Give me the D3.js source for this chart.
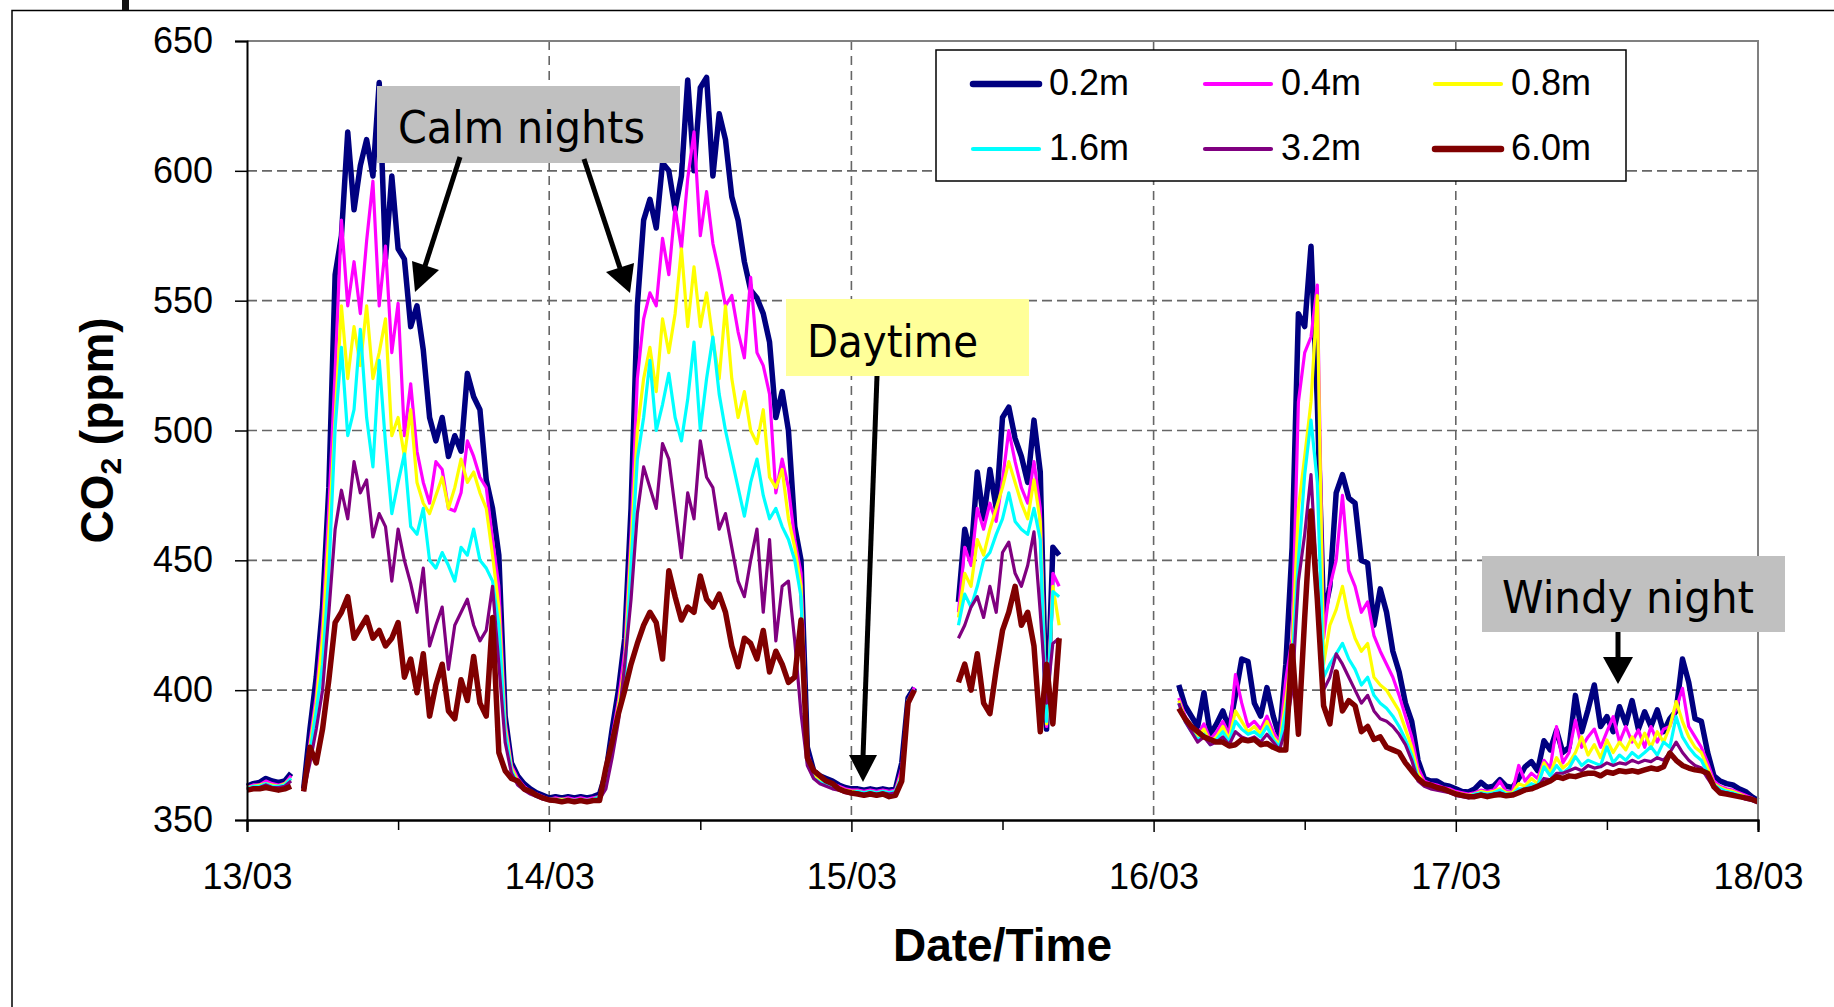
<!DOCTYPE html>
<html>
<head>
<meta charset="utf-8">
<script src="https://d3js.org/d3.v7.min.js"></script>
<style>
  body { margin: 0; background: #fff; }
  text { font-family: "Liberation Sans", Arial, sans-serif; fill: #000; }
  .note { font-family: "DejaVu Sans", Tahoma, sans-serif; font-size: 45px; }
</style>
</head>
<body>
<svg id="chart" width="1834" height="1007"></svg>
<script>
// time axis is in hours from 13/03 00:00, half-hour readings
// each series is split into blocks; block b starts at blockStart[b]
var blockStart = [0, 4.5, 24.5, 28.5, 48.5, 56.5, 74, 97.5];

var dayLabels = ["13/03", "14/03", "15/03", "16/03", "17/03", "18/03"];
var yTicks = [350, 400, 450, 500, 550, 600, 650];
var seriesNames = ["0.2m", "0.4m", "0.8m", "1.6m", "3.2m", "6.0m"];

var co2_02 = [
  [363,364,364.5,366,365,364.5,365,368],
  [362,385,405,432,478,560,575,615,585,602,612,598,634,566,598,570,566,540,548,531,505,496,505,490,498,492,522,513,508,481,470,452,390,372,367,364,362,360.5,359.5,358.5],
  [359,358.5,359,358.5,359,358.5,359,360],
  [368,385,400,420,470,548,581,589,578,603,600,585,598,635,600,632,636,598,622,612,590,581,565,554,551,545,534,505,515,500,463,450,378,369,367,366,365,363.5,362.5,362],
  [362,361.5,362,361.5,362,361.5,362,372,397,401],
  [434,462,452,484,466,485,470,505,509,497,490,480,504,484,385,455,452],
  [402,394,390,386,399,383,387,392,385,398,412,411,395,390,401,390,382,410,455,545,540,571,511,428,440,476,483,474,472,450,449,425,439,430,415,407,395,388,373,366,365,365,363.5,363,362,361,360.8],
  [362,364.5,362.5,363,365.5,363,362.5,366,370.5,372.5,369,380.5,377,384.5,376,378,398,384,392.5,402,386,389.8,384,393.6,387,396,385,391.7,386,392.4,384,389,392,412,403,389,388,376,367,365,364,363.5,362,361,359,357.5]
];

var co2_04 = [
  [362.5,363.5,363.5,365,364,363.5,364,367],
  [362,380,398,425,470,523,581,548,565,545,573,596,548,571,530,549,498,518,492,480,472,488,485,470,469,476,496,490,482,478,458,440,388,371,366,363,361,360,359,358],
  [358.5,358,358.5,358,358.5,358,358.5,359],
  [366,382,396,415,460,520,543,553,548,574,560,586,570,597,615,575,592,572,561,548,552,538,528,559,530,525,514,476,489,478,458,445,376,368,366,365,364,363,362,361.5],
  [361.5,361,361.5,361,361.5,361,361.5,370,396,401],
  [430,455,448,470,462,472,465,481,500,488,478,472,488,470,386,445,440],
  [397,390,386,383,387,381,384,388,383,406,395,386,388,385,390,384,380,404,420,511,530,536,556,420,440,450,475,446,440,430,434,421,415,410,405,398,390,382,370,365,364,363.5,362.5,362,361,360.5,360],
  [360.5,361.5,361,361.5,365,361,361,371,365,368,366,373,370,386,372,376,388.5,378,382,385,378,384,389.8,380,386,380,384.7,378,386,380,385,386,393,400.7,386,382,378,372,365,363,362,361.5,360.5,359.5,358.5,357]
];

var co2_08 = [
  [362.5,363,363.5,364,363.5,363,364,366],
  [362,378,395,420,460,505,548,520,540,525,548,520,530,543,498,505,490,508,480,472,468,475,482,470,478,489,480,484,476,470,452,432,386,370,365,362.5,361,359.5,358.5,358],
  [358,358,358,357.5,358,357.5,358,359],
  [364,380,394,410,455,500,520,532,515,543,530,545,570,540,563,540,553,535,520,548,520,505,515,500,495,508,482,478,485,466,455,440,375,367,365,364,363,362.5,361.5,361],
  [361,360.5,361,360.5,361,360.5,361,368,396,400],
  [428,445,440,458,452,462,470,478,488,480,472,466,481,465,387,440,425],
  [396,389,385,382,385,380,382,386,381,392,388,384,386,383,388,382,379,396,415,470,490,511,552,410,425,431,440,428,420,415,418,405,402,400,396,392,385,378,368,364,363,362.5,362,361.5,360.5,360,359.5],
  [360,361,360.5,361,362,360.5,360.5,364,363,366,364,372,368,374,370,372,376,382,375,379,374,380.8,376,380,377,382,378,383.4,378,384,380,386,395.6,388,382,378,376,370,364,362.5,361.5,361,360,359,358,357]
];

var co2_16 = [
  [362,363,363,364,363,363,363.5,366],
  [362,376,392,410,445,501,532,498,508,539,505,486,527,495,468,480,491,463,460,470,450,447,453,448,442,455,452,462,450,447,442,425,384,369,364,362,360.5,359,358.5,358],
  [358,357.5,358,357.5,358,357.5,358,359],
  [363,378,392,405,448,489,505,527,500,510,522,505,496,512,534,500,520,536,514,500,489,478,467,480,489,475,466,470,463,458,450,436,372,366,364.5,363.5,362.5,362,361,360.5],
  [361,360.5,361,360.5,361,360.5,361,367,396,400],
  [425,437,432,440,450,453,460,466,476,465,462,460,470,458,388,438,436],
  [395,388,384,381,383,379,381,384,380,388,385,383,384,382,386,381,378,392,410,450,483,504,480,405,410,414,418,412,408,402,405,398,395,393,390,386,381,375,366,363.5,362.5,362,361.5,361,360,359.5,359],
  [360,360.5,360,360.5,361.5,360,360,362,362,364,363,370.5,367,371,368,370,374.4,371,373,372,371,378.2,372,375,373,376,374,376,378.2,375,380,378,389.8,382,378,375,373,368,363.5,362,361,360.5,359.5,358.5,357.5,356.8]
];

var co2_32 = [
  [361.5,362.5,362.5,363.5,362.5,362.5,363,365],
  [361,372,385,400,430,462,477,466,488,476,481,459,468,463,442,462,450,441,430,447,417,425,432,408,425,430,435,425,419,423,440,410,380,368,363.5,361.5,360,359,358,357.5],
  [357.5,357.5,357.5,357,357.5,357,357.5,358],
  [362,374,388,410,435,468,486,478,470,495,489,470,451,476,466,496,482,478,462,468,455,442,436,450,462,430,458,419,440,442,419,391,371,366,364,363,362,361.5,360.5,360],
  [360.5,360,360.5,360,360.5,360,360.5,366,395,400],
  [420,425,432,436,428,440,430,453,457,445,440,448,461,430,395,418,420],
  [395,388,384,380,382,379,380,382,379,384,382,381,382,380,383,380,377,385,400,442,460,483,440,400,405,414,410,405,400,395,398,392,389,388,386,383,379,373,365,363,362,361.5,361,360.5,359.5,359,358.5],
  [359.5,360,359.5,360,360.5,359.5,359.5,361,361.5,362.5,362.5,366,365.5,368,368,369,370,369,371,370,370.5,372,371,372,371.5,373,372,373,372.5,374,373,376,380,376,373,371,370,366,362.5,361,360.5,360,359,358,357.5,356.5]
];

var co2_60 = [
  [361.5,362,362,362.5,362,361.5,362,363],
  [361,378,372,385,404,426,430,436,420,424,428,420,423,417,420,426,405,412,399,414,390,402,410,392,389,404,396,413,395,390,428,376,369,366,365,362,361,359.5,358.5,357.7],
  [357.5,357,357.5,357,357.5,357,357.5,357.5],
  [370,380,391,400,410,418,425,430,426,412,446,436,427,432,430,444,435,432,437,430,417,409,420,418,412,423,407,415,410,403,405,427,374,369,367,365,364,362,361,360.4],
  [360,359.5,360,359.5,360,359,359.5,365,395,400],
  [403,410,400,414,395,391,408,423,430,440,425,430,417,384,410,387,420],
  [393,389,386,384,382,381,380,380,378.5,379,381,380.5,381,379,379.5,378,377,377,417,383,428,469,435,394,387,407,392,396,394,384,386,381,382,378,377,376,372,369,366,364,363.5,362.5,362,361,360,359.5,359],
  [359,359.6,359,359.5,359.8,359.3,359.6,360.5,361.6,362,363,364,365,366.7,366,367,366.7,367.5,368,368,367,368.5,368,369,368.6,369,368.5,369.3,370,369.5,370.5,375.8,373,371,370,369.3,369,368,362.8,360.4,360,359.5,359,358.5,358,357]
];

var allSeries = [co2_02, co2_04, co2_08, co2_16, co2_32, co2_60];
var colors = ["#000080", "#ff00ff", "#ffff00", "#00ffff", "#800080", "#800000"];
var widths = [5.5, 3.2, 3.2, 3.2, 3.2, 5.5];

var L = 247, R = 1758, T = 41, B = 820;
var x = d3.scaleLinear().domain([0, 120]).range([L, R]);
var y = d3.scaleLinear().domain([350, 650]).range([B, T]);

var svg = d3.select("#chart");

// slide frame round the chart
svg.append("path").attr("d", "M12,1007 V10.5 H1834")
  .attr("fill", "none").attr("stroke", "#000").attr("stroke-width", 1.5);
svg.append("rect").attr("x", 122).attr("y", 0).attr("width", 7).attr("height", 10).attr("fill", "#111");

// grid
svg.append("g").selectAll("line").data(yTicks.slice(1, -1)).enter().append("line")
  .attr("x1", L).attr("x2", R).attr("y1", d => y(d)).attr("y2", d => y(d))
  .attr("stroke", "#666").attr("stroke-width", 1.6).attr("stroke-dasharray", "10,5");
svg.append("g").selectAll("line").data([24, 48, 72, 96]).enter().append("line")
  .attr("x1", d => x(d)).attr("x2", d => x(d)).attr("y1", T).attr("y2", B)
  .attr("stroke", "#666").attr("stroke-width", 1.6).attr("stroke-dasharray", "9,6");

function points(blocks) {
  var pts = [];
  blocks.forEach(function(vals, b) {
    if (pts.length && blockStart[b] - pts[pts.length - 1].t > 0.75) pts.push({t: null, v: null});
    vals.forEach(function(v, j) { pts.push({t: blockStart[b] + 0.5 * j, v: v}); });
  });
  return pts;
}

var line = d3.line()
  .defined(d => d.v != null)
  .x(d => x(d.t))
  .y(d => y(d.v));

svg.append("g").selectAll("path").data(allSeries).enter().append("path")
  .attr("d", d => line(points(d)))
  .attr("fill", "none")
  .attr("stroke", (d, i) => colors[i])
  .attr("stroke-width", (d, i) => widths[i])
  .attr("stroke-linejoin", "round");

// plot area border
svg.append("path").attr("d", "M" + L + "," + T + " H" + R + " V" + B)
  .attr("fill", "none").attr("stroke", "#808080").attr("stroke-width", 2);

// axes
var yAxis = d3.axisLeft(y).tickValues(yTicks).tickSize(12).tickPadding(22);
var gy = svg.append("g").attr("transform", "translate(" + L + ",0)").call(yAxis);
var xAxis = d3.axisBottom(x).tickValues([0, 24, 48, 72, 96, 120])
  .tickFormat((d, i) => dayLabels[i]).tickSize(12).tickPadding(31);
var gx = svg.append("g").attr("transform", "translate(0," + B + ")").call(xAxis);
var xMinor = d3.axisBottom(x).tickValues([12, 36, 60, 84, 108]).tickFormat("").tickSize(10);
var gm = svg.append("g").attr("transform", "translate(0," + B + ")").call(xMinor);

[gx, gy, gm].forEach(function(g) {
  g.select(".domain").attr("stroke", "#000").attr("stroke-width", 2);
  g.selectAll(".tick line").attr("stroke", "#000").attr("stroke-width", 1.5);
  g.selectAll("text").attr("font-family", "'Liberation Sans', Arial, sans-serif")
    .attr("font-size", 36).attr("fill", "#000");
});

svg.append("text").attr("x", (L + R) / 2).attr("y", 961)
  .attr("text-anchor", "middle").attr("font-size", 46).attr("font-weight", "bold")
  .text("Date/Time");

var yt = svg.append("text").attr("transform", "translate(113," + ((T + B) / 2) + ") rotate(-90)")
  .attr("text-anchor", "middle").attr("font-size", 46).attr("font-weight", "bold");
yt.append("tspan").text("CO");
yt.append("tspan").attr("font-size", 30).attr("dy", 8).text("2");
yt.append("tspan").attr("dy", -8).text(" (ppm)");

// legend
svg.append("rect").attr("x", 936).attr("y", 50).attr("width", 690).attr("height", 131)
  .attr("fill", "#fff").attr("stroke", "#000").attr("stroke-width", 1.5);
var legCols = [973, 1205, 1435], legRows = [84, 149];
var leg = svg.append("g").selectAll("g").data(seriesNames).enter().append("g")
  .attr("transform", (d, i) => "translate(" + legCols[i % 3] + "," + legRows[Math.floor(i / 3)] + ")");
leg.append("line").attr("x1", 0).attr("x2", 66).attr("y1", 0).attr("y2", 0)
  .attr("stroke", (d, i) => colors[i]).attr("stroke-width", (d, i) => widths[i] + 1)
  .attr("stroke-linecap", "round");
leg.append("text").attr("x", 76).attr("y", 11).attr("font-size", 36).text(d => d);

// annotations
function note(x0, y0, w, h, fill, label, tx, ty, tw) {
  svg.append("rect").attr("x", x0).attr("y", y0).attr("width", w).attr("height", h).attr("fill", fill);
  svg.append("text").attr("class", "note").attr("x", tx).attr("y", ty)
    .attr("textLength", tw).attr("lengthAdjust", "spacingAndGlyphs").text(label);
}
function arrow(x1, y1, x2, y2, head) {
  svg.append("line").attr("x1", x1).attr("y1", y1).attr("x2", x2).attr("y2", y2)
    .attr("stroke", "#000").attr("stroke-width", 5);
  svg.append("polygon").attr("points", head.map(p => p.join(",")).join(" ")).attr("fill", "#000");
}

note(377, 86, 303, 77, "#c0c0c0", "Calm nights", 398, 143, 247);
arrow(460, 157, 425, 266, [[412, 261], [439, 270], [415, 292]]);
arrow(584, 159, 620, 268, [[606, 272], [634, 263], [630, 293]]);

note(786, 299, 243, 77, "#ffff99", "Daytime", 807, 357, 171);
arrow(877, 376, 863, 757, [[849, 755], [877, 755], [863, 782]]);

note(1482, 556, 303, 76, "#c0c0c0", "Windy night", 1502, 613, 252);
arrow(1618, 632, 1618, 658, [[1603, 657], [1633, 657], [1618, 684]]);
</script>
</body>
</html>
